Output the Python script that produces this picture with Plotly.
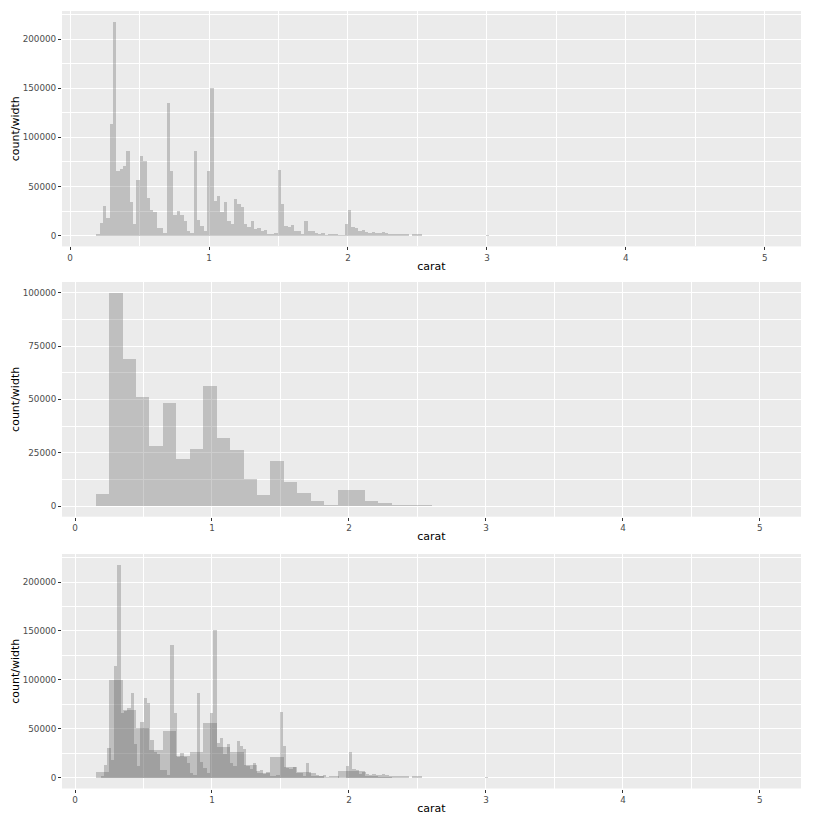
import plotly.graph_objects as go


# ==================================
# DATA  (count / bin width)
# ==================================

carat_min = 0.2
carat_max = 5.01

# fine histogram: 200 bins
fine_bins = 200
fine_density = [
    1500, 12900, 30300, 18400, 114000, 217700, 66300, 68000, 71100, 86400,
    34400, 11900, 57100, 81300, 76500, 38800, 25900, 24500, 8200, 8200,
    3000, 135400, 66300, 21100, 25200, 21100, 15000, 4800, 3000, 86400,
    16000, 9900, 4800, 66000, 150700, 35700, 40500, 24100, 34400, 15000,
    11900, 37400, 32700, 29600, 11900, 8800, 15000, 6800, 7800, 4400,
    5800, 2000, 1700, 2700, 67000, 32300, 9900, 9200, 10900, 4800,
    4800, 1700, 15000, 4800, 4800, 2700, 1700, 2700, 1000, 1400,
    1400, 1400, 300, 300, 11900, 26200, 8800, 7800, 4400, 5800,
    3700, 3000, 3700, 3000, 3000, 3700, 2400, 1700, 1700, 1700,
    1700, 1700, 1700, 0, 1400, 1400, 1400, 100, 80, 80,
    80, 40, 40, 40, 40, 0, 40, 0, 0, 40,
    0, 0, 0, 0, 40, 0, 600, 80, 0, 0,
    40, 0, 0, 40, 40, 0, 0, 0, 0, 40,
    0, 0, 40, 40, 0, 0, 0, 0, 0, 0,
    0, 0, 0, 0, 0, 0, 0, 0, 0, 0,
    0, 0, 0, 40, 80, 0, 0, 0, 0, 0,
    0, 0, 0, 0, 0, 0, 0, 0, 0, 0,
    40, 0, 0, 0, 0, 0, 0, 0, 0, 0,
    0, 0, 0, 0, 0, 0, 0, 0, 0, 0,
    0, 0, 0, 0, 0, 0, 0, 0, 0, 40,
]

# coarse histogram: 50 bins
coarse_bins = 50
coarse_density = [
    5625, 100000, 68900, 51100, 28300, 48300, 22000, 26700, 56250, 31900,
    26250, 12650, 5150, 21000, 11100, 5900, 2200, 300, 7350, 7350,
    2200, 1250, 300, 300, 300, 100, 30, 20, 200, 20,
    10, 10, 10, 0, 10, 0, 0, 0, 20, 10,
    0, 0, 0, 0, 0, 0, 0, 0, 0, 10,
]

x_ticks = [0, 1, 2, 3, 4, 5]
y_ticks_tall = [0, 50000, 100000, 150000, 200000]
y_ticks_short = [0, 25000, 50000, 75000, 100000]


# ==================================
# BINS
# ==================================

def bin_centers(n):
    width = (carat_max - carat_min) / (n - 1)
    return [carat_min + k * width for k in range(n)], width


fine_x, fine_w = bin_centers(fine_bins)
coarse_x, coarse_w = bin_centers(coarse_bins)


# ==================================
# FIGURE
# ==================================

BAR = "rgba(89,89,89,0.3)"
FONT = "DejaVu Sans"

fig = go.Figure()


def add_hist(x, y, w, axis):
    fig.add_trace(go.Bar(
        x=x,
        y=y,
        width=w,
        marker=dict(color=BAR, line=dict(width=0)),
        xaxis="x" + axis,
        yaxis="y" + axis,
        showlegend=False,
        hoverinfo="skip"
    ))


add_hist(fine_x, fine_density, fine_w, "")
add_hist(coarse_x, coarse_density, coarse_w, "2")
add_hist(fine_x, fine_density, fine_w, "3")
add_hist(coarse_x, coarse_density, coarse_w, "3")


W, H = 813, 825
left, right = 62 / W, 801 / W


def yd(top, bottom):
    return [1 - bottom / H, 1 - top / H]


def x_axis(anchor, rng):
    return dict(
        domain=[left, right],
        anchor=anchor,
        range=rng,
        tickvals=x_ticks,
        ticktext=[str(t) for t in x_ticks],
        ticks="outside",
        ticklen=3,
        tickwidth=1,
        tickcolor="#333333",
        tickfont=dict(family=FONT, size=8.8, color="#4D4D4D"),
        showgrid=True,
        gridcolor="white",
        gridwidth=1.1,
        minor=dict(tickvals=[0.5, 1.5, 2.5, 3.5, 4.5], showgrid=True,
                   gridcolor="white", gridwidth=0.55, ticks=""),
        zeroline=False,
        showline=False,
        title=dict(text="carat", font=dict(family=FONT, size=11, color="black"),
                   standoff=0),
        automargin=False,
    )


def y_axis(anchor, dom, rng, ticks, minor):
    return dict(
        domain=dom,
        anchor=anchor,
        range=rng,
        tickvals=ticks,
        ticktext=[str(t) for t in ticks],
        ticks="outside",
        ticklen=3,
        tickwidth=1,
        tickcolor="#333333",
        tickfont=dict(family=FONT, size=8.8, color="#4D4D4D"),
        showgrid=True,
        gridcolor="white",
        gridwidth=1.1,
        minor=dict(tickvals=minor, showgrid=True,
                   gridcolor="white", gridwidth=0.55, ticks=""),
        zeroline=False,
        showline=False,
        title=dict(text="count/width", font=dict(family=FONT, size=11, color="black"),
                   standoff=0),
        automargin=False,
    )


minor_tall = [25000, 75000, 125000, 175000, 225000]
minor_short = [12500, 37500, 62500, 87500]

fig.update_layout(
    width=W,
    height=H,
    margin=dict(l=0, r=0, t=0, b=0),
    template="none",
    paper_bgcolor="white",
    plot_bgcolor="#EBEBEB",
    barmode="overlay",
    bargap=0,
    font=dict(family=FONT),
    xaxis=x_axis("y", [-0.058, 5.26]),
    yaxis=y_axis("x", yd(11, 246.4), [-10900, 228600], y_ticks_tall, minor_tall),
    xaxis2=x_axis("y2", [-0.095, 5.30]),
    yaxis2=y_axis("x2", yd(282, 516.7), [-5000, 105000], y_ticks_short, minor_short),
    xaxis3=x_axis("y3", [-0.095, 5.30]),
    yaxis3=y_axis("x3", yd(554, 788.5), [-10900, 228600], y_ticks_tall, minor_tall),
)

# page body has a default 8px margin; remove it so the figure fills the window
fig.write_html(
    "out.html",
    config={"displayModeBar": False},
    post_script="document.body.style.margin='0';"
)
